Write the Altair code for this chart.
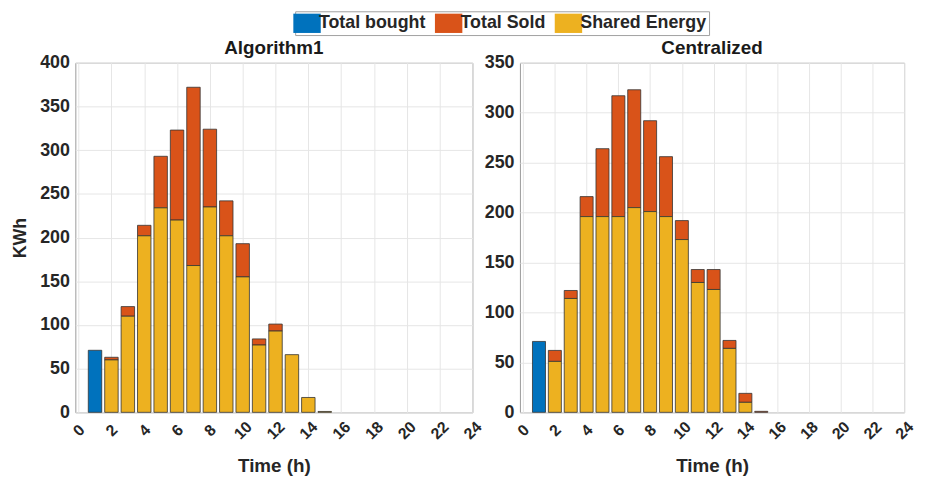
import altair as alt
import pandas as pd

hours = list(range(1, 25))
series_names = ["Total bought", "Total Sold", "Shared Energy"]
series_colors = ["#0072BD", "#D95319", "#EDB120"]
stack_rank = {"Total bought": 0, "Shared Energy": 1, "Total Sold": 2}

# Algorithm1 panel
alg_bought = [71, 0, 0, 0, 0, 0, 0, 0, 0, 0, 0, 0, 0, 0, 0, 0, 0, 0, 0, 0, 0, 0, 0, 0]
alg_shared = [0, 60, 110, 202, 234, 220, 168, 235, 202, 155, 77, 93, 66, 17, 1, 0, 0, 0, 0, 0, 0, 0, 0, 0]
alg_sold = [0, 3, 11, 12, 59, 103, 204, 89, 40, 38, 7, 8, 0, 0, 0, 0, 0, 0, 0, 0, 0, 0, 0, 0]

# Centralized panel
cen_bought = [71, 0, 0, 0, 0, 0, 0, 0, 0, 0, 0, 0, 0, 0, 0, 0, 0, 0, 0, 0, 0, 0, 0, 0]
cen_shared = [0, 51, 114, 196, 196, 196, 205, 201, 196, 173, 130, 123, 64, 10, 0, 0, 0, 0, 0, 0, 0, 0, 0, 0]
cen_sold = [0, 11, 8, 20, 68, 121, 118, 91, 60, 19, 13, 20, 8, 9, 1, 0, 0, 0, 0, 0, 0, 0, 0, 0]

x_ticks = list(range(0, 25, 2))


def long_table(bought, sold, shared):
    rows = []
    for name, vals in (("Total bought", bought), ("Total Sold", sold), ("Shared Energy", shared)):
        for h, v in zip(hours, vals):
            rows.append({"hour": h, "series": name, "value": v, "rank": stack_rank[name]})
    return pd.DataFrame(rows)


FONT = "Liberation Sans"
TXT = "#262626"


def panel(df, title, ymax, width, show_ytitle):
    yaxis = alt.Axis(
        values=list(range(0, ymax + 1, 50)),
        title="KWh" if show_ytitle else None,
        titleFontSize=18, titleFontWeight="bold", titleColor=TXT, titlePadding=10,
        labelFontSize=18, labelFontWeight="bold", labelColor=TXT, labelPadding=6,
        tickSize=0, domain=False, gridColor="#e6e6e6",
    )
    xaxis = alt.Axis(
        values=x_ticks, title="Time (h)", labelAngle=315,
        titleFontSize=19, titleFontWeight="bold", titleColor=TXT, titlePadding=15,
        labelFontSize=16, labelFontWeight="bold", labelColor=TXT, labelPadding=18,
        labelAlign="center", labelBaseline="middle",
        tickSize=0, domain=False, gridColor="#e6e6e6",
    )
    return (
        alt.Chart(df)
        .transform_filter("datum.value > 0")
        .transform_stack(stack="value", groupby=["hour"], as_=["y0", "y1"],
                         sort=[alt.SortField("rank", order="ascending")])
        .transform_calculate(x0="datum.hour - 0.41", x1="datum.hour + 0.41")
        .mark_bar(stroke="#333333", strokeWidth=0.8)
        .encode(
            x=alt.X("x0:Q", scale=alt.Scale(domain=[-0.2, 24], nice=False, zero=False), axis=xaxis),
            x2="x1:Q",
            y=alt.Y("y0:Q", scale=alt.Scale(domain=[0, ymax], nice=False), axis=yaxis),
            y2="y1:Q",
            color=alt.Color(
                "series:N",
                scale=alt.Scale(domain=series_names, range=series_colors),
                legend=alt.Legend(
                    orient="none", legendX=222, legendY=-52, direction="horizontal",
                    title=None, labelFontSize=18, labelFontWeight="bold", labelColor=TXT,
                    symbolType="M-1.42,-1H1.42V1H-1.42Z", symbolSize=380, symbolStrokeWidth=0,
                    symbolOpacity=1, columnPadding=9, labelOffset=2,
                    strokeColor="#a0a0a0", fillColor="white", padding=2,
                ),
            ),
        )
        .properties(
            width=width, height=353,
            title=alt.TitleParams(title, fontSize=19, fontWeight="bold", color="#1a1a1a", offset=-4),
        )
    )


left = panel(long_table(alg_bought, alg_sold, alg_shared), "Algorithm1", 400, 401, True)
right = panel(long_table(cen_bought, cen_sold, cen_shared), "Centralized", 350, 388, False)

chart = (
    alt.hconcat(left, right, spacing=48, bounds="flush")
    .resolve_scale(y="independent")
    .configure(font=FONT, padding={"left": 3, "top": 0, "right": 0, "bottom": 0})
    .configure_view(stroke="#9a9a9a", strokeWidth=1)
)

chart.save("out.html", embed_options={"renderer": "svg", "actions": False})
